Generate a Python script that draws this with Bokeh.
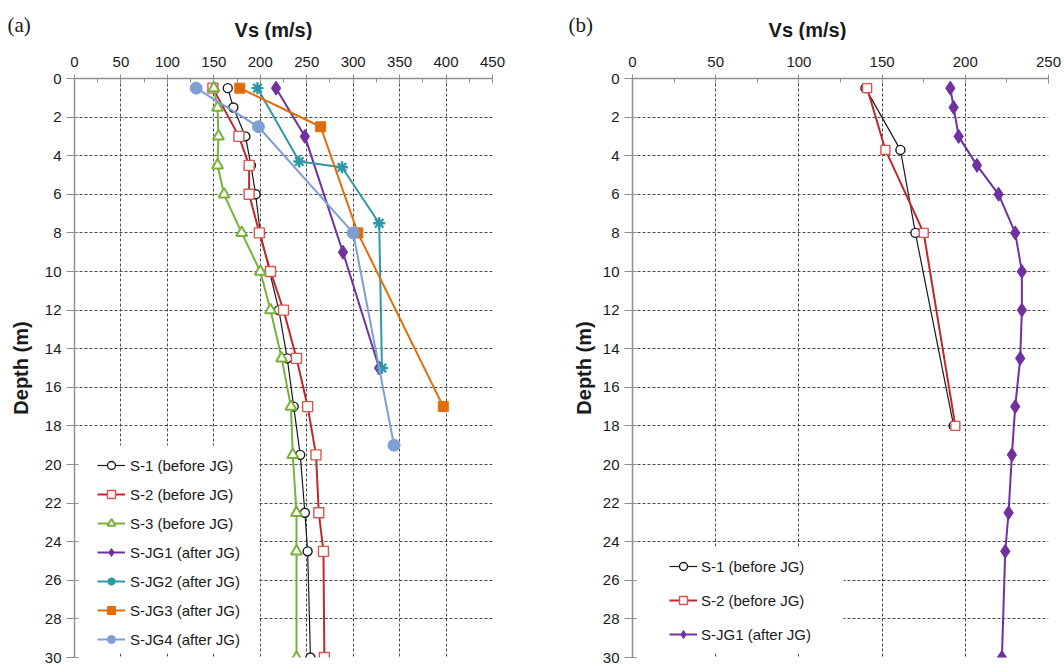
from bokeh.plotting import figure
from bokeh.models import Range1d, FixedTicker, Legend, LegendItem, BoxAnnotation
from bokeh.layouts import row, column
from bokeh.embed import file_html
from bokeh.resources import INLINE
from bokeh.core.properties import value

# ---------------- data (Vs in m/s, depth in m) ----------------
depth_full = [0.5, 1.5, 3, 4.5, 6, 8, 10, 12, 14.5, 17, 19.5, 22.5, 24.5, 30]

a_s1_depth = depth_full
a_s1_vs = [165, 171, 184, 190, 195, 200, 210, 220, 229, 236, 243, 248, 251, 254]
a_s2_depth = [0.5, 3, 4.5, 6, 8, 10, 12, 14.5, 17, 19.5, 22.5, 24.5, 30]
a_s2_vs = [149, 177, 188, 188, 199, 211, 225, 239, 251, 260, 263, 268, 269]
a_s3_depth = depth_full
a_s3_vs = [150, 154, 155, 154, 161, 180, 200, 211, 223, 233, 235, 239, 239, 239]
a_jg1_depth = [0.5, 3, 9, 15]
a_jg1_vs = [217, 248, 289, 328]
a_jg2_depth = [0.5, 4.3, 4.6, 7.5, 15]
a_jg2_vs = [197, 242, 288, 328, 331]
a_jg3_depth = [0.5, 2.5, 8, 17]
a_jg3_vs = [178, 265, 305, 397]
a_jg4_depth = [0.5, 2.5, 8, 19]
a_jg4_vs = [131, 198, 300, 344]

b_s1_depth = [0.5, 3.7, 8, 18]
b_s1_vs = [140, 161, 170, 193]
b_s2_depth = [0.5, 3.7, 8, 18]
b_s2_vs = [141, 152, 175, 194]
b_jg1_depth = depth_full
b_jg1_vs = [191, 193, 196, 207, 220, 230, 234, 234, 233, 230, 228, 226, 224, 222]

a_xticks = list(range(0, 451, 50))
b_xticks = list(range(0, 251, 50))
yticks = list(range(0, 31, 2))

labels_a = ["S-1 (before JG)", "S-2 (before JG)", "S-3 (before JG)", "S-JG1 (after JG)",
            "S-JG2 (after JG)", "S-JG3 (after JG)", "S-JG4 (after JG)"]
labels_b = ["S-1 (before JG)", "S-2 (before JG)", "S-JG1 (after JG)"]
panel_tags = ["(a)", "(b)"]
x_title = "Vs (m/s)"
y_title = "Depth (m)"

FONT = "Liberation Sans"
GRID = "#4a4a4a"
AXIS = "#8f8f8f"
TXT = "#1a1a1a"
STRIP_H = 40
W = 1064

# ---------------- header strip (panel tags and x-axis titles) ----------------
strip = figure(width=W, height=STRIP_H, output_backend="svg", toolbar_location=None,
               x_range=Range1d(0, W), y_range=Range1d(STRIP_H, 0),
               x_axis_type=None, y_axis_type=None,
               min_border_left=0, min_border_right=0, min_border_top=0, min_border_bottom=0)
strip.outline_line_color = None
strip.grid.visible = False
strip.text(x=[7, 568], y=[24, 24], text=panel_tags,
           text_font=value("Liberation Serif"), text_font_size="21px", text_color=TXT,
           text_align="left", text_baseline="middle")
strip.text(x=[273, 807], y=[29, 29], text=[x_title, x_title], text_font=value(FONT),
           text_font_size="20px", text_font_style="bold", text_color=TXT,
           text_align="center", text_baseline="middle")


def make_fig(width, xmax, xticks, border_left, border_right, ylabel_standoff):
    p = figure(width=width, height=664 - STRIP_H, output_backend="svg", toolbar_location=None,
               x_axis_location="above", x_range=Range1d(0, xmax), y_range=Range1d(30, 0),
               min_border_left=border_left, min_border_right=border_right,
               min_border_top=78 - STRIP_H, min_border_bottom=7)
    p.outline_line_color = None
    p.xaxis.ticker = FixedTicker(ticks=xticks, minor_ticks=list(range(0, xmax + 1, 25)))
    p.yaxis.ticker = FixedTicker(ticks=yticks, minor_ticks=[])
    for ax in (p.xaxis[0], p.yaxis[0]):
        ax.axis_line_color = AXIS
        ax.axis_line_width = 1.5
        ax.major_tick_line_color = AXIS
        ax.minor_tick_line_color = AXIS
        ax.major_label_text_font = FONT
        ax.major_label_text_font_size = "15px"
        ax.major_label_text_color = TXT
        ax.axis_label_text_font = FONT
        ax.axis_label_text_font_size = "20px"
        ax.axis_label_text_font_style = "bold"
        ax.axis_label_text_color = TXT
    p.xaxis.major_tick_out = 4
    p.xaxis.major_tick_in = 5
    p.xaxis.minor_tick_out = 0
    p.xaxis.minor_tick_in = 4
    p.xaxis.major_label_standoff = 8
    p.yaxis.major_tick_out = 8
    p.yaxis.major_tick_in = 4
    p.yaxis.major_label_standoff = 5
    p.yaxis.axis_label = y_title
    p.yaxis.axis_label_standoff = ylabel_standoff
    p.grid.grid_line_color = GRID
    p.grid.grid_line_dash = "3 2"
    p.grid.grid_line_width = 1
    return p


def add_series(p, xs, ys, label, color, lw, marker, size, fill, mline, mlw):
    r1 = p.line(xs, ys, line_color=color, line_width=lw)
    r2 = p.scatter(xs, ys, marker=marker, size=size, fill_color=fill,
                   line_color=mline, line_width=mlw)
    return LegendItem(label=label, renderers=[r1, r2])


def style_legend(leg, spacing, standoff):
    leg.label_text_font = FONT
    leg.label_text_font_size = "15px"
    leg.label_text_color = TXT
    leg.glyph_width = 28
    leg.glyph_height = 20
    leg.label_height = 20
    leg.spacing = spacing
    leg.padding = 0
    leg.margin = 0
    leg.label_standoff = standoff
    leg.background_fill_alpha = 0
    leg.border_line_color = None


def white_box(p, right, top):
    p.add_layout(BoxAnnotation(left=0, right=right, bottom=4, top=top,
                               left_units="screen", right_units="screen",
                               bottom_units="screen", top_units="screen",
                               fill_color="white", fill_alpha=1, line_color=None,
                               level="underlay"))


# ---------------- panel (a) ----------------
pa = make_fig(560, 450, a_xticks, 74, 68, 10)
white_box(pa, 184, 212)
items_a = [
    add_series(pa, a_s1_vs, a_s1_depth, labels_a[0], "#1a1a1a", 1.2, "circle", 9, "white", "#1a1a1a", 1.4),
    add_series(pa, a_s2_vs, a_s2_depth, labels_a[1], "#c0272d", 2, "square", 10, "white", "#d9534f", 1.4),
    add_series(pa, a_s3_vs, a_s3_depth, labels_a[2], "#79b13b", 2, "triangle", 11, "white", "#79b13b", 2),
    add_series(pa, a_jg1_vs, a_jg1_depth, labels_a[3], "#7030a0", 2, "diamond", 14, "#7030a0", "#7030a0", 1),
    add_series(pa, a_jg2_vs, a_jg2_depth, labels_a[4], "#2e98a8", 2, "asterisk", 12, "#2e98a8", "#2e98a8", 2.4),
    add_series(pa, a_jg3_vs, a_jg3_depth, labels_a[5], "#e36c0a", 2, "square", 10, "#e36c0a", "#e36c0a", 1),
    add_series(pa, a_jg4_vs, a_jg4_depth, labels_a[6], "#7d9fd3", 2, "circle", 12, "#7d9fd3", "#7d9fd3", 1),
]
leg_a = Legend(items=items_a, location=(23, 8))
style_legend(leg_a, 9, 5)
pa.add_layout(leg_a)

# ---------------- panel (b) ----------------
pb = make_fig(504, 250, b_xticks, 72, 16, 5)
white_box(pb, 211, 109)
items_b = [
    add_series(pb, b_s1_vs, b_s1_depth, labels_b[0], "#1a1a1a", 1.2, "circle", 9, "white", "#1a1a1a", 1.4),
    add_series(pb, b_s2_vs, b_s2_depth, labels_b[1], "#c0272d", 2, "square", 9, "white", "#d9534f", 1.4),
    add_series(pb, b_jg1_vs, b_jg1_depth, labels_b[2], "#7030a0", 2, "diamond", 14, "#7030a0", "#7030a0", 1),
]
leg_b = Legend(items=items_b, location=(37, 13))
style_legend(leg_b, 14, 4)
pb.add_layout(leg_b)

layout = column(strip, row(pa, pb))
open("out.html", "w").write(file_html(layout, INLINE))
